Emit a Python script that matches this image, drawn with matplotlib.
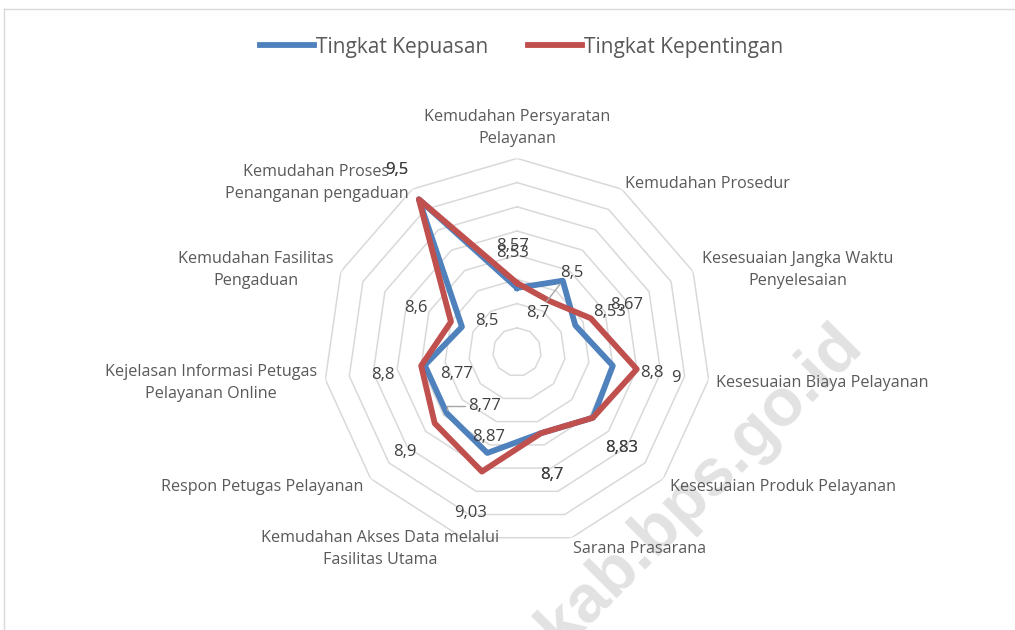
import numpy as np
import matplotlib.pyplot as plt
from matplotlib.lines import Line2D

plt.rcParams['font.family'] = ['Open Sans', 'DejaVu Sans']

# data
kategori = [
    'Kemudahan Persyaratan\nPelayanan',
    'Kemudahan Prosedur',
    'Kesesuaian Jangka Waktu\nPenyelesaian',
    'Kesesuaian Biaya Pelayanan',
    'Kesesuaian Produk Pelayanan',
    'Sarana Prasarana',
    'Kemudahan Akses Data melalui\nFasilitas Utama',
    'Respon Petugas Pelayanan',
    'Kejelasan Informasi Petugas\nPelayanan Online',
    'Kemudahan Fasilitas\nPengaduan',
    'Kemudahan Proses\nPenanganan pengaduan',
]
kepuasan = [8.53, 8.7, 8.53, 8.8, 8.83, 8.7, 8.87, 8.77, 8.77, 8.5, 9.5]
kepentingan = [8.57, 8.5, 8.67, 9.0, 8.83, 8.7, 9.03, 8.9, 8.8, 8.6, 9.5]
r_min, r_max, r_step = 8.0, 9.6, 0.2

BLUE = '#4F81BD'
RED = '#C0504D'
GRID = '#D9D9D9'

def fmt(v):
    return f"{v:g}".replace('.', ',')

n = len(kategori)
theta = np.linspace(0, 2 * np.pi, n, endpoint=False)
theta_c = np.append(theta, theta[0])

fig = plt.figure(figsize=(10.15, 6.3), dpi=100)
ax = fig.add_axes([0.3186, 0.134, 0.3815, 0.6146], projection='polar')
ax.set_theta_offset(np.pi / 2)
ax.set_theta_direction(-1)
ax.set_ylim(r_min, r_max)
ax.set_xticks([])
ax.set_yticks([])
ax.grid(False)
ax.spines['polar'].set_visible(False)
ax.patch.set_alpha(0)

# polygon grid
for r in np.arange(r_min + r_step, r_max + 1e-9, r_step):
    ax.plot(theta_c, [r] * (n + 1), color=GRID, lw=1.1, zorder=1)

# watermark
ax.text(0.690, 0.228, 'kab.bps.go.id', transform=fig.transFigure, rotation=45,
        fontsize=48, fontweight='bold', color='#E2E2E2', family='Liberation Sans',
        ha='center', va='center', zorder=1.5, clip_on=False)

ax.plot(theta_c, kepuasan + kepuasan[:1], color=BLUE, lw=4.2, label='Tingkat Kepuasan', zorder=3)
ax.plot(theta_c, kepentingan + kepentingan[:1], color=RED, lw=4.2, label='Tingkat Kepentingan', zorder=4)

# data labels (offsets in pixels)
off_puas = [(-4, 35), (-25, -32), (34, 13), (39, -7), (29, -30), (11, -42),
            (1, 16), (38, 7), (32, -9), (25, 6), (-22, 29)]
off_penting = [(-4, 37), (22, 28), (36, 13), (39, -9), (29, -30), (11, -42),
               (-11, -41), (-30, -29), (-38, -9), (-35, 14), (-22, 29)]
for i in range(n):
    for vals, offs in ((kepuasan, off_puas), (kepentingan, off_penting)):
        arrow = None
        if vals is kepuasan and i == 1:
            arrow = dict(arrowstyle='-', color='#A6A6A6', lw=1, shrinkA=0, shrinkB=3)
        if vals is kepuasan and i == 7:
            arrow = dict(arrowstyle='-', color='#A6A6A6', lw=1, shrinkA=0, shrinkB=2,
                         connectionstyle='angle,angleA=0,angleB=90,rad=0')
        ax.annotate(fmt(vals[i]), xy=(theta[i], vals[i]), xytext=offs[i],
                    textcoords='offset pixels', ha='center', va='center',
                    fontsize=12, color='#404040', zorder=5, arrowprops=arrow)

# category labels
off_kat = [(0, 30), (86, 5), (105, 2), (114, -3), (120, -8), (68, -11),
           (-82, -11), (-108, -8), (-114, -3), (-85, 2), (-96, 6)]
for i, lab in enumerate(kategori):
    ax.annotate(lab, xy=(theta[i], r_max), xytext=off_kat[i], textcoords='offset pixels',
                ha='center', va='center', multialignment='center', fontsize=11.6,
                color='#595959', linespacing=1.5, annotation_clip=False)

fig.legend(loc='center', bbox_to_anchor=(0.514, 0.925), ncol=2, frameon=False,
           fontsize=15, handlelength=2.6, handletextpad=0.1, columnspacing=1.9,
           labelcolor='#595959')

# chart border
fig.add_artist(Line2D([4 / 1015, 1], [1 - 9 / 630] * 2, transform=fig.transFigure, color=GRID, lw=1))
fig.add_artist(Line2D([4 / 1015] * 2, [0, 1 - 9 / 630], transform=fig.transFigure, color=GRID, lw=1))

fig.savefig('out.png', dpi=100)
